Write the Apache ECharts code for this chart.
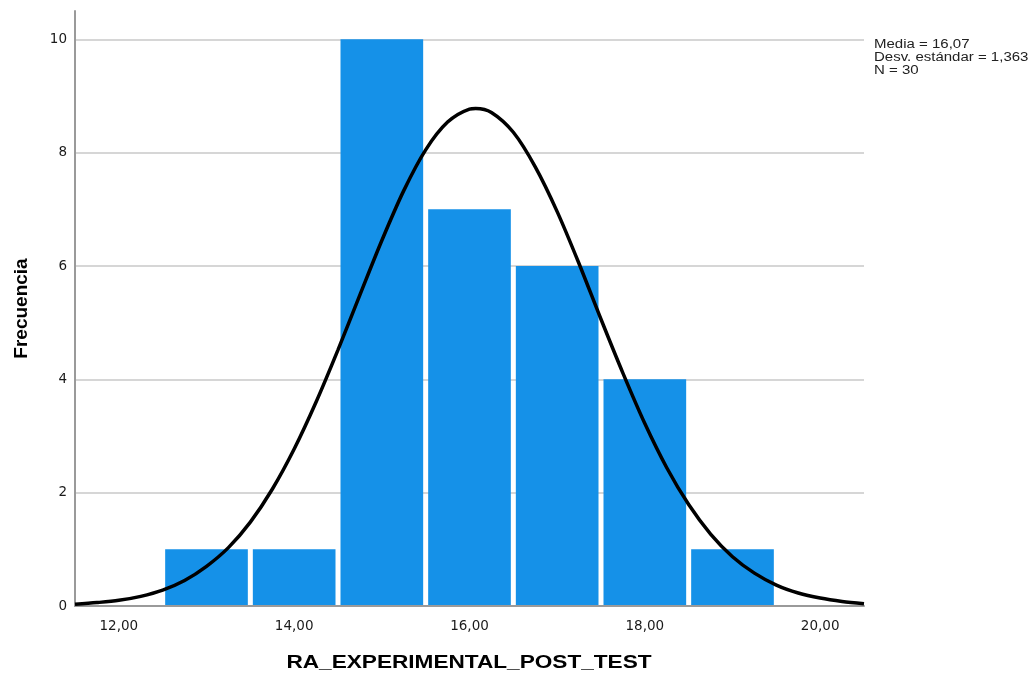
<!DOCTYPE html>
<html>
<head>
<meta charset="utf-8">
<script src="https://cdn.jsdelivr.net/npm/echarts@6/dist/echarts.min.js"></script>
<style>
  html, body { margin: 0; padding: 0; background: #fff; }
  #chart { width: 1033px; height: 678px; }
</style>
</head>
<body>
<div id="chart"></div>
<script>
// histogram bins (centre, width 1) and counts
const binCenters = [13, 14, 15, 16, 17, 18, 19]
const binCounts = [1, 1, 10, 7, 6, 4, 1]

// fitted normal curve, every 0.25 (plus its peak)
const curveX = [11.5, 11.75, 12, 12.25, 12.5, 12.75, 13, 13.25, 13.5, 13.75, 14, 14.25, 14.5, 14.75,
  15, 15.25, 15.5, 15.75, 16, 16.07, 16.25, 16.5, 16.75, 17, 17.25, 17.5, 17.75, 18, 18.25, 18.5, 18.75,
  19, 19.25, 19.5, 19.75, 20, 20.25, 20.5]
const curveY = [0.03, 0.06, 0.10, 0.17, 0.28, 0.45, 0.70, 1.03, 1.48, 2.06, 2.77, 3.60, 4.52, 5.49,
  6.45, 7.33, 8.05, 8.54, 8.77, 8.78, 8.71, 8.36, 7.75, 6.96, 6.04, 5.06, 4.11, 3.22, 2.44, 1.79, 1.27,
  0.87, 0.58, 0.37, 0.23, 0.14, 0.08, 0.04]

const xTicks = [12, 14, 16, 18, 20]
const statsLines = ['Media = 16,07', 'Desv. estándar = 1,363', 'N = 30']
const xTitle = 'RA_EXPERIMENTAL_POST_TEST'
const yTitle = 'Frecuencia'

const chart = echarts.init(document.getElementById('chart'))

const barData = binCenters.map((c, i) => [c, binCounts[i]])
const lineData = curveX.map((x, i) => [x, curveY[i]])

chart.setOption({
  animation: false,
  grid: { left: 75, right: 169, top: 11, bottom: 72 },
  xAxis: {
    type: 'value',
    min: 11.5,
    max: 20.5,
    axisLine: { show: true, lineStyle: { color: '#9a9a9a', width: 2 } },
    axisTick: { show: false },
    splitLine: { show: false },
    axisLabel: {
      customValues: xTicks,
      fontFamily: 'DejaVu Sans',
      fontSize: 13.5,
      color: '#1a1a1a',
      margin: 13,
      formatter: v => v.toFixed(2).replace('.', ',')
    }
  },
  yAxis: {
    type: 'value',
    min: 0,
    max: 10.5,
    interval: 2,
    name: yTitle,
    nameLocation: 'middle',
    nameGap: 44,
    nameTextStyle: { fontFamily: 'Liberation Sans', fontSize: 19, fontWeight: 'bold', color: '#000' },
    axisLine: { show: true, lineStyle: { color: '#9a9a9a', width: 2 } },
    axisTick: { show: false },
    splitLine: { show: true, showMaxLine: false, lineStyle: { color: '#c8c8c8', width: 1.5 } },
    axisLabel: {
      fontFamily: 'DejaVu Sans',
      fontSize: 13.5,
      color: '#1a1a1a',
      margin: 8,
      showMaxLabel: false
    }
  },
  graphic: [
    {
      type: 'text',
      x: 874,
      y: 38,
      scaleX: 1.2,
      style: {
        text: statsLines.join('\n'),
        fontFamily: 'Liberation Sans',
        fontSize: 12.5,
        lineHeight: 13,
        fill: '#222'
      }
    },
    {
      type: 'text',
      x: 469,
      y: 663,
      scaleX: 1.19,
      style: {
        text: xTitle,
        align: 'center',
        verticalAlign: 'middle',
        fontFamily: 'Liberation Sans',
        fontSize: 19,
        fontWeight: 'bold',
        fill: '#000'
      }
    }
  ],
  series: [
    {
      type: 'custom',
      data: barData,
      renderItem: (params, api) => {
        const c = api.value(0)
        const v = api.value(1)
        const p0 = api.coord([c - 0.5, v])
        const p1 = api.coord([c + 0.5, 0])
        return {
          type: 'rect',
          shape: { x: p0[0] + 2.5, y: p0[1], width: p1[0] - p0[0] - 5, height: p1[1] - p0[1] - 1 },
          style: { fill: '#1591e8' }
        }
      },
      z: 2
    },
    {
      type: 'line',
      data: lineData,
      smooth: 0.3,
      showSymbol: false,
      lineStyle: { color: '#000', width: 3.5 },
      z: 3
    }
  ]
})
</script>
</body>
</html>
